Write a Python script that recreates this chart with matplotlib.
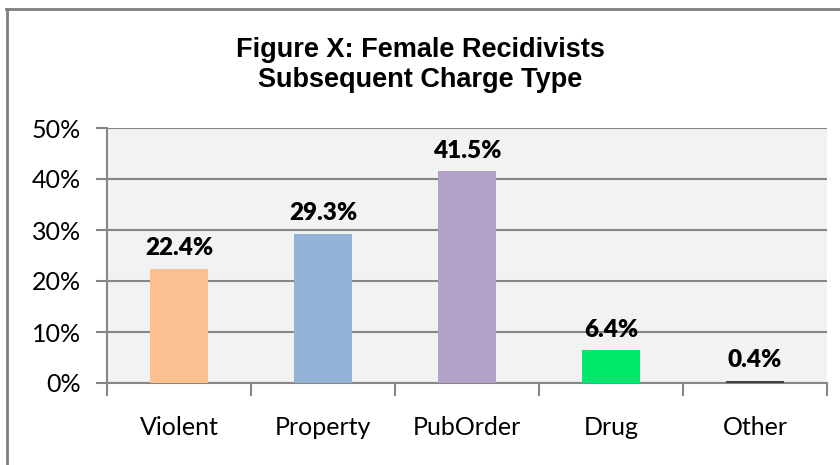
import numpy as np
import matplotlib.pyplot as plt
from matplotlib.lines import Line2D

categories = ['Violent', 'Property', 'PubOrder', 'Drug', 'Other']
values = [22.4, 29.3, 41.5, 6.4, 0.4]
bar_colors = ['#FAC090', '#95B3D7', '#B2A1C7', '#00E86B', '#404040']
y_ticks = [0, 10, 20, 30, 40, 50]

grid_color = '#868686'

fig = plt.figure(figsize=(8.4, 4.65), dpi=100)
ax = fig.add_axes([107 / 840, 1 - 383 / 465, 720 / 840, 255 / 465])
ax.set_facecolor('#F2F2F2')

x = np.arange(len(categories))
ax.bar(x, values, width=0.4, color=bar_colors, zorder=3)

for xi, v in zip(x, values):
    ax.annotate(f'{v:.1f}%', (xi, v), xytext=(0, 7), textcoords='offset points',
                ha='center', va='bottom', fontsize=17.5, fontweight='heavy',
                family='Lato', color='black', zorder=4)

ax.set_xlim(-0.5, len(categories) - 0.5)
ax.set_ylim(0, 50)
ax.set_yticks(y_ticks)
ax.set_yticklabels([f'{t}%' for t in y_ticks], family='Lato', fontsize=18)
ax.set_xticks(x)
ax.set_xticklabels(categories, family='Lato', fontsize=18)
ax.set_xticks(np.arange(-0.5, len(categories)), minor=True)

ax.tick_params(axis='x', which='major', length=0, pad=24)
ax.tick_params(axis='x', which='minor', length=9, width=1.5, color=grid_color)
ax.tick_params(axis='y', which='major', length=8, width=1.5, color=grid_color, pad=11)

ax.yaxis.grid(True, color=grid_color, linewidth=1.5, zorder=1)
ax.set_axisbelow(True)
for side in ['top', 'right']:
    ax.spines[side].set_visible(False)
for side in ['left', 'bottom']:
    ax.spines[side].set_color(grid_color)
    ax.spines[side].set_linewidth(1.5)

fig.text(0.5, 1 - 57 / 465, 'Figure X: Female Recidivists', ha='center', va='baseline',
         fontsize=19.5, fontweight='bold', family='Liberation Sans')
fig.text(0.5, 1 - 87 / 465, 'Subsequent Charge Type', ha='center', va='baseline',
         fontsize=19.5, fontweight='bold', family='Liberation Sans')

# outer chart border (only top and left edges are in frame)
fig.add_artist(Line2D([6 / 840, 1], [1 - 9.5 / 465, 1 - 9.5 / 465], color='#7F7F7F', linewidth=2))
fig.add_artist(Line2D([6.5 / 840, 6.5 / 840], [0, 1 - 9.5 / 465], color='#7F7F7F', linewidth=2))

fig.savefig('out.png', dpi=100)
